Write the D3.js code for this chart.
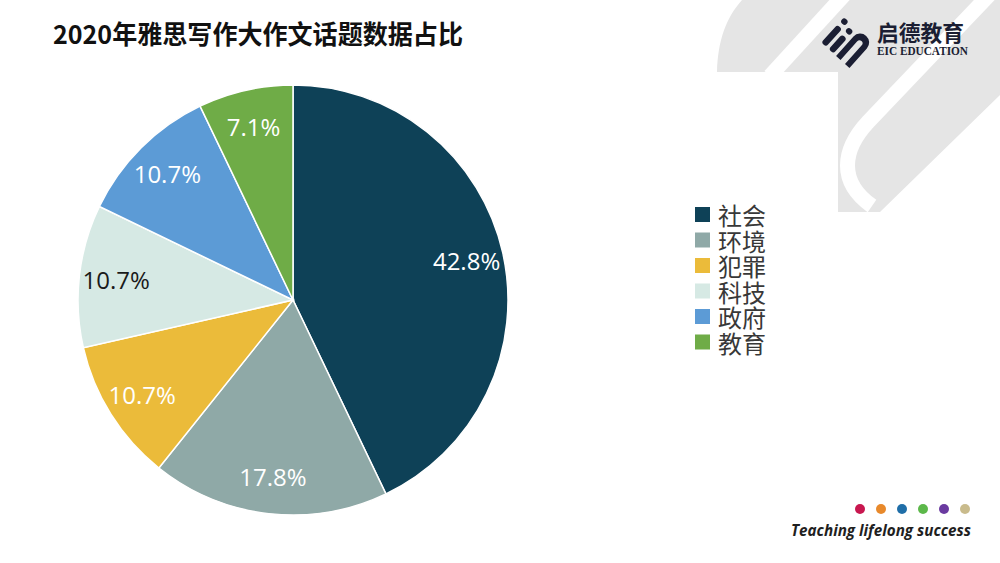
<!DOCTYPE html>
<html>
<head>
<meta charset="utf-8">
<script src="https://cdn.jsdelivr.net/npm/d3@7/dist/d3.min.js"></script>
<style>
  html, body { margin: 0; padding: 0; background: #ffffff; }
  svg { display: block; }
</style>
</head>
<body>
<svg id="chart" width="1000" height="563"></svg>
<script>
// ---- data ----
const title = "2020年雅思写作大作文话题数据占比";
const categories = ["社会", "环境", "犯罪", "科技", "政府", "教育"];
const values = [42.8, 17.8, 10.7, 10.7, 10.7, 7.1];
const labels = ["42.8%", "17.8%", "10.7%", "10.7%", "10.7%", "7.1%"];
const colors = ["#0e4157", "#8fa9a7", "#ebbb3a", "#d6e9e4", "#5c9bd6", "#6fac47"];
const labelColors = ["#ffffff", "#ffffff", "#ffffff", "#1a1a1a", "#ffffff", "#ffffff"];
const brandDots = ["#c8174f", "#e8892b", "#1f6ea8", "#5cb84a", "#6a3aa0", "#c9bb8c"];
const slogan = "Teaching lifelong success";
const brandCn = "启德教育";
const brandEn = "EIC EDUCATION";

const svg = d3.select("#chart");

// ---- background watermark (top right) ----
const bg = svg.append("g");
bg.append("path")
  .attr("d", "M742,0 L1000,0 L1000,95 L880,212 L838,212 L838,72 L717,72 C718,40 726,18 742,0 Z")
  .attr("fill", "#e5e5e5");
bg.append("path")
  .attr("d", "M845,-6 L770,76")
  .attr("stroke", "#ffffff").attr("stroke-width", 15).attr("fill", "none");
bg.append("path")
  .attr("d", "M990,-6 L868,122 C842,150 838,182 872,206")
  .attr("stroke", "#ffffff").attr("stroke-width", 15).attr("fill", "none")
  .attr("stroke-linecap", "butt");

// ---- title ----
svg.append("text")
  .attr("x", 53).attr("y", 44)
  .attr("font-family", "'Noto Sans CJK SC', 'Noto Sans', sans-serif")
  .attr("font-weight", 700)
  .attr("font-size", 26)
  .attr("fill", "#111111")
  .attr("textLength", 410)
  .attr("lengthAdjust", "spacingAndGlyphs")
  .text(title);

// ---- logo ----
const logo = svg.append("g").attr("fill", "#1b1e33");
const icon = logo.append("g").attr("transform", "translate(845,37) rotate(-48)");
icon.append("rect").attr("x", -20).attr("y", -14).attr("width", 24).attr("height", 6.5).attr("rx", 3);
icon.append("rect").attr("x", 8).attr("y", -14).attr("width", 6).attr("height", 6.5).attr("rx", 3);
icon.append("rect").attr("x", -20).attr("y", -4).attr("width", 20).attr("height", 6.5).attr("rx", 3);
icon.append("rect").attr("x", 4).attr("y", -4).attr("width", 6).attr("height", 6.5).attr("rx", 3);
icon.append("path")
  .attr("d", "M-20,6 L6,6 A9,9 0 0 1 6,24 L-20,24 L-20,18 L5,18 A3,3 0 0 0 5,12 L-20,12 Z");
logo.append("text")
  .attr("x", 877).attr("y", 41)
  .attr("font-family", "'Noto Sans CJK SC', sans-serif")
  .attr("font-weight", 700).attr("font-size", 22)
  .attr("textLength", 87).attr("lengthAdjust", "spacingAndGlyphs")
  .text(brandCn);
logo.append("text")
  .attr("x", 877).attr("y", 55)
  .attr("font-family", "'Liberation Serif', 'DejaVu Serif', serif")
  .attr("font-weight", 700).attr("font-size", 12)
  .attr("textLength", 91).attr("lengthAdjust", "spacingAndGlyphs")
  .text(brandEn);

// ---- pie ----
const cx = 293, cy = 300, radius = 215;
const pie = d3.pie().sort(null).value(d => d);
const arcs = pie(values);
const arc = d3.arc().innerRadius(0).outerRadius(radius);
const labelArc = d3.arc().innerRadius(178).outerRadius(178);

const g = svg.append("g").attr("transform", `translate(${cx},${cy})`);
g.selectAll("path.slice")
  .data(arcs)
  .join("path")
  .attr("class", "slice")
  .attr("d", arc)
  .attr("fill", (d, i) => colors[i])
  .attr("stroke", "#ffffff")
  .attr("stroke-width", 1.5);

g.selectAll("text.lbl")
  .data(arcs)
  .join("text")
  .attr("class", "lbl")
  .attr("transform", d => `translate(${labelArc.centroid(d)})`)
  .attr("text-anchor", "middle")
  .attr("dominant-baseline", "central")
  .attr("font-family", "'Open Sans', 'Noto Sans', sans-serif")
  .attr("font-size", 24)
  .attr("fill", (d, i) => labelColors[i])
  .text((d, i) => labels[i]);

// ---- legend ----
const legend = svg.append("g").attr("transform", "translate(695,207)");
const rowH = 25.5;
const items = legend.selectAll("g.item")
  .data(categories)
  .join("g")
  .attr("class", "item")
  .attr("transform", (d, i) => `translate(0,${i * rowH})`);
items.append("rect")
  .attr("width", 15).attr("height", 15)
  .attr("fill", (d, i) => colors[i]);
items.append("text")
  .attr("x", 23).attr("y", 7.5)
  .attr("dominant-baseline", "central")
  .attr("font-family", "'Noto Sans CJK SC', sans-serif")
  .attr("font-size", 24)
  .attr("fill", "#383838")
  .text(d => d);

// ---- footer ----
const dotX = d3.scalePoint().domain(d3.range(brandDots.length)).range([860, 965]);
svg.append("g").selectAll("circle")
  .data(brandDots)
  .join("circle")
  .attr("cx", (d, i) => dotX(i))
  .attr("cy", 509)
  .attr("r", 5)
  .attr("fill", d => d);
svg.append("text")
  .attr("x", 791).attr("y", 536)
  .attr("font-family", "'Open Sans', 'Noto Sans', sans-serif")
  .attr("font-style", "italic")
  .attr("font-weight", 700)
  .attr("font-size", 16)
  .attr("fill", "#1f1f1f")
  .attr("textLength", 180)
  .attr("lengthAdjust", "spacingAndGlyphs")
  .text(slogan);
</script>
</body>
</html>
